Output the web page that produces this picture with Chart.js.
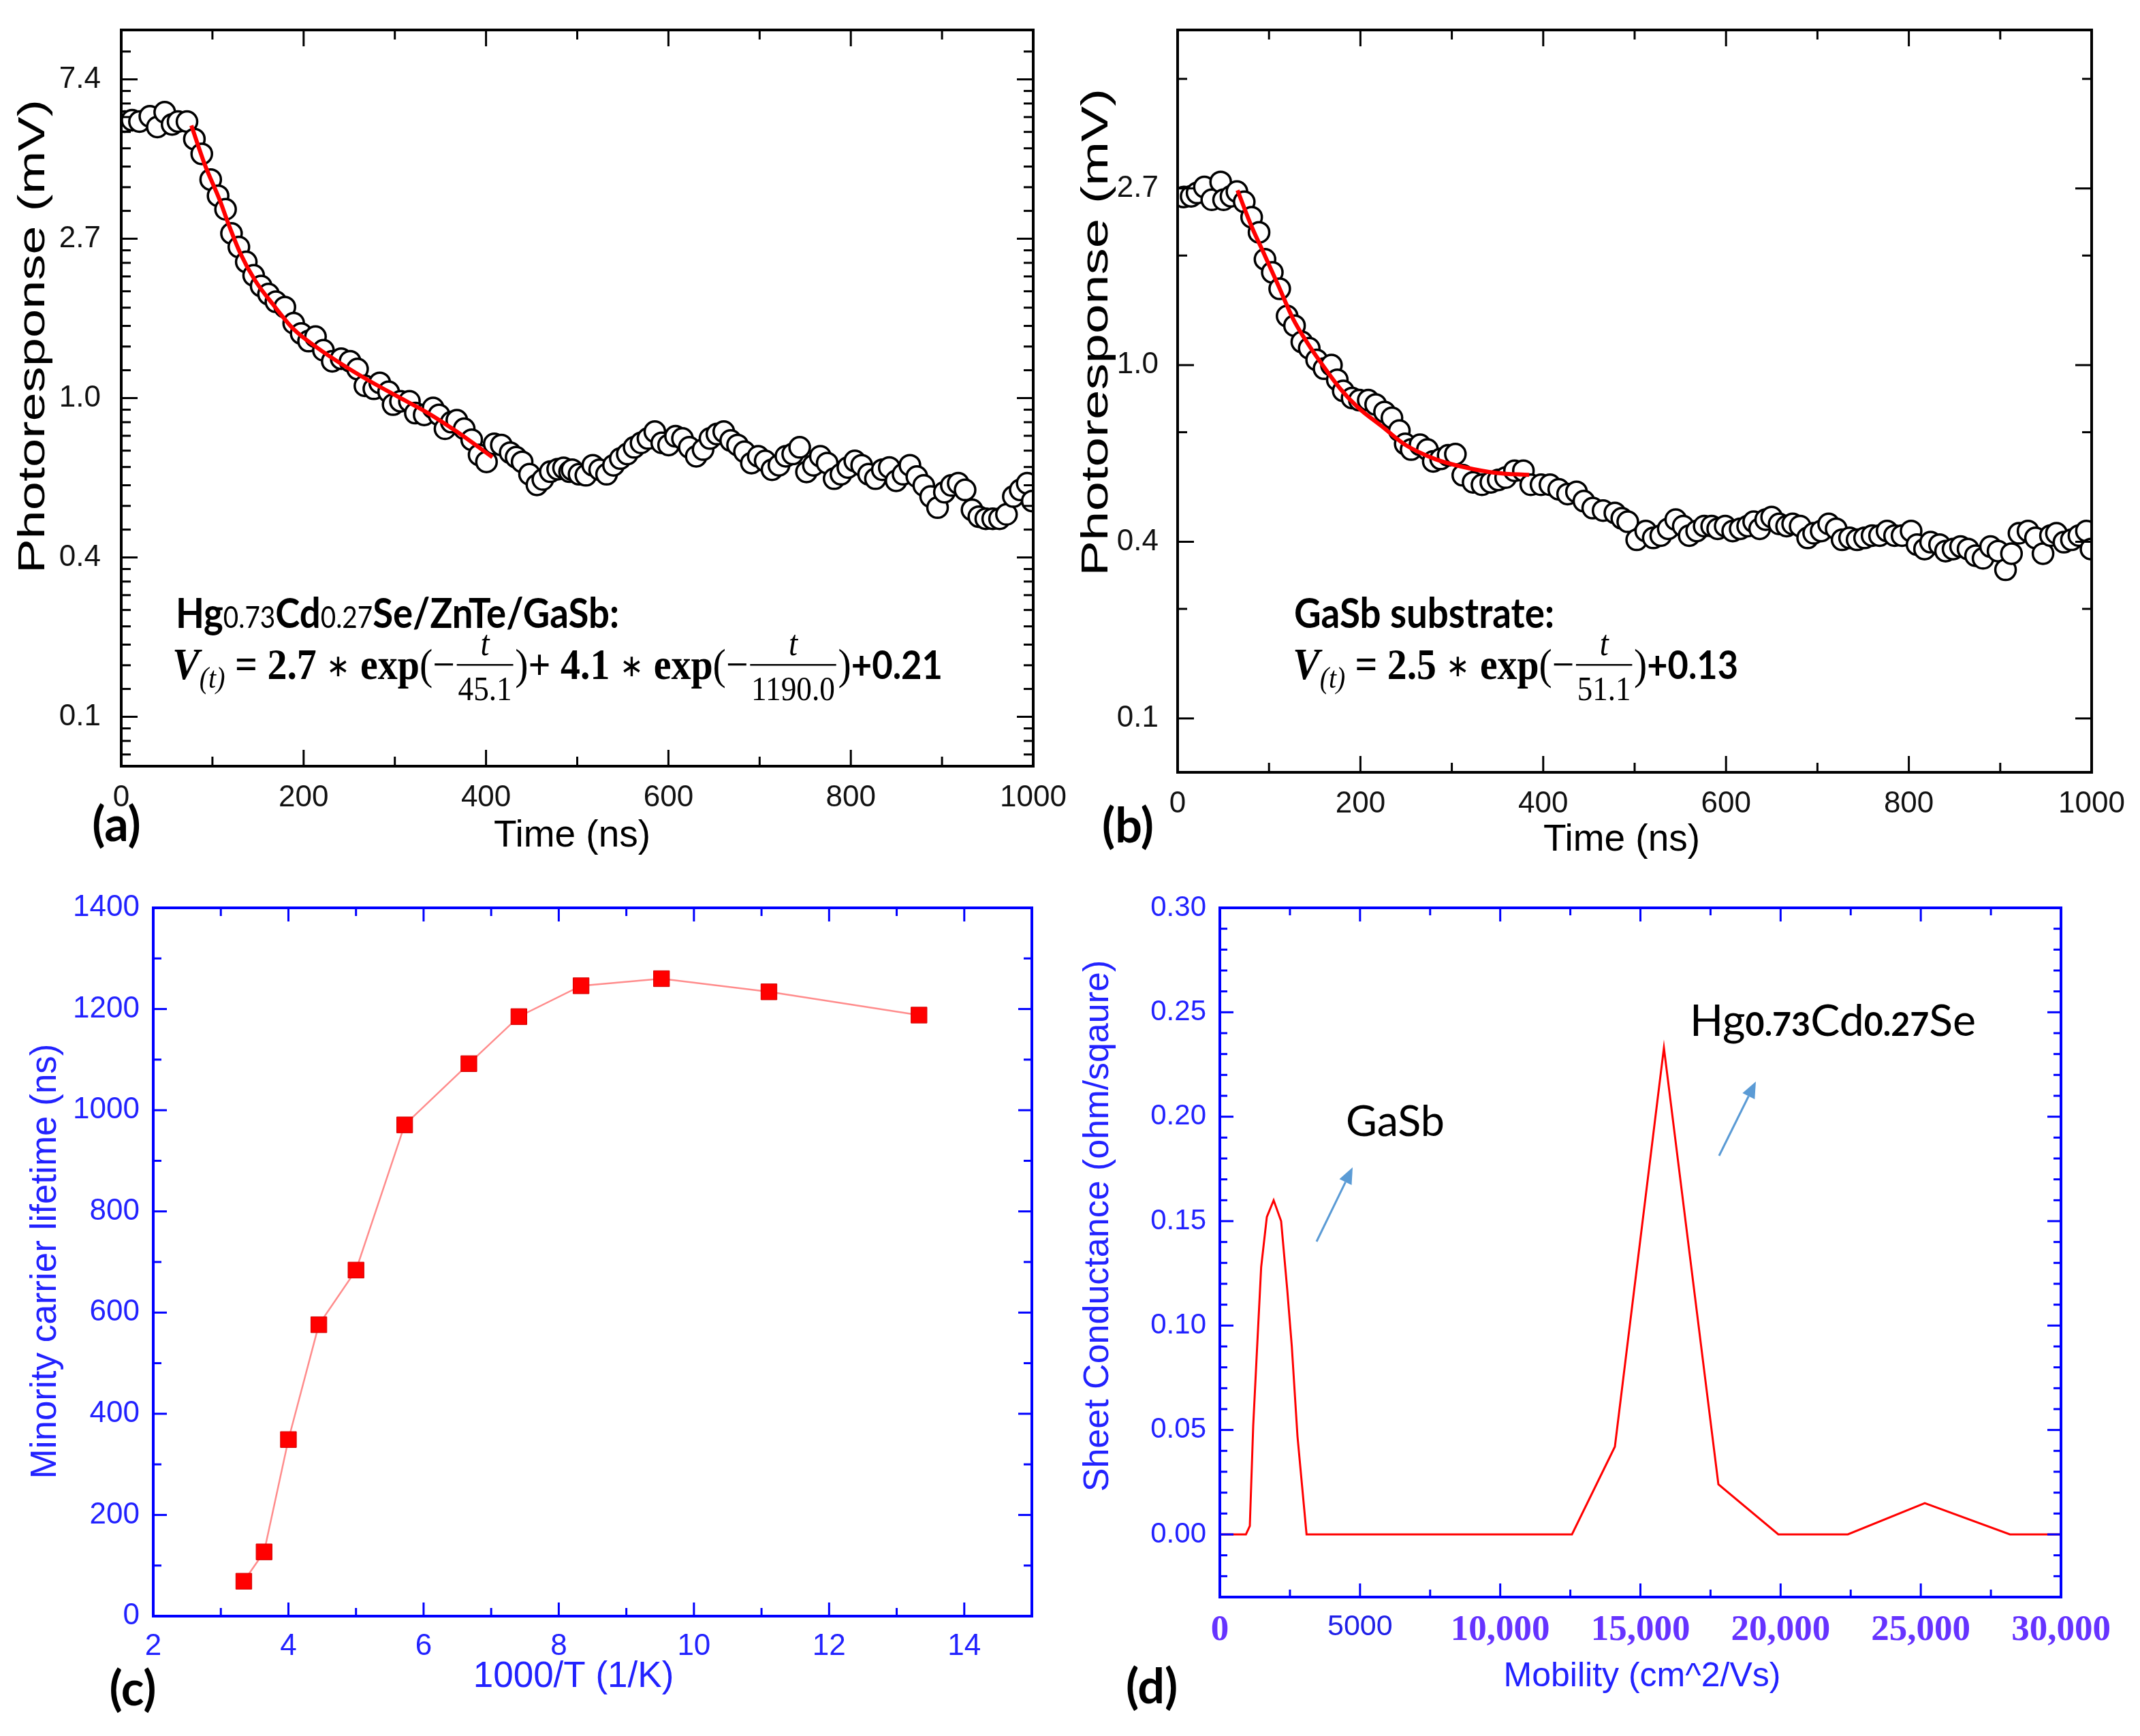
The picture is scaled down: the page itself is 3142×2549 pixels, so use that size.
<!DOCTYPE html>
<html>
<head>
<meta charset="utf-8">
<script src="https://cdn.jsdelivr.net/npm/chart.js@4.4.1/dist/chart.umd.min.js"></script>
<style>
  html, body { margin: 0; padding: 0; background: #fff; }
  body { width: 3142px; height: 2549px; position: relative; overflow: hidden; }
  canvas { position: absolute; }
</style>
</head>
<body>
<canvas id="ca" width="1571" height="1270" style="left:0;top:0;width:1571px;height:1270px"></canvas>
<canvas id="cb" width="1571" height="1270" style="left:1571px;top:0;width:1571px;height:1270px"></canvas>
<canvas id="cc" width="1571" height="1279" style="left:0;top:1270px;width:1571px;height:1279px"></canvas>
<canvas id="cd" width="1571" height="1279" style="left:1571px;top:1270px;width:1571px;height:1279px"></canvas>
<script>
// ---- (a) Hg0.73Cd0.27Se/ZnTe/GaSb photoresponse ----
let tA = [3.8, 11.9, 20.0, 31.4, 39.6, 47.7, 55.8, 62.3, 72.1, 80.2, 88.3, 98.1, 106.2, 114.4, 120.9, 129.0, 137.1, 145.2, 153.4, 161.5,
  169.6, 179.4, 189.1, 197.3, 205.4, 213.0, 221.7, 231.4, 241.2, 250.9, 259.1, 267.2, 277.0, 283.5, 293.2, 298.1, 306.2, 316.0, 322.5, 332.2,
  342.0, 348.5, 355.0, 362.0, 368.0, 376.1, 384.3, 392.4, 400.5, 409.0, 416.8, 426.5, 433.0, 439.6, 447.7, 455.8, 462.3, 470.5, 478.6, 485.0, 491.6,
  494.4, 502, 509.5, 517.1, 524.6, 532.2, 539.8, 547.3, 554.9, 562.4, 570, 577.6, 585.1, 592.7, 600.2, 607.8, 615.4, 622.9, 630.5, 638,
  645.6, 653.2, 660.7, 668.3, 675.8, 683.4, 691, 698.5, 706.1, 713.6, 721.2, 728.8, 736.3, 743.9, 751.4, 759, 766.6, 774.1, 781.7, 789.2,
  796.8, 804.4, 811.9, 819.5, 827, 834.6, 842.2, 849.7, 857.3, 864.8, 872.4, 880, 887.5, 895.1, 902.6, 910.2, 917.8, 925.3, 932.9, 940.4,
  948, 955.6, 963.1, 970.7, 978.2, 985.8, 993.4, 999];
let vA = [5.67, 5.72, 5.67, 5.86, 5.48, 6.01, 5.57, 5.67, 5.67, 5.08, 4.63, 3.94, 3.56, 3.27, 2.81, 2.58, 2.35, 2.16, 2.02, 1.92,
  1.83, 1.77, 1.60, 1.50, 1.43, 1.47, 1.35, 1.26, 1.28, 1.26, 1.20, 1.08, 1.06, 1.10, 1.04, 0.96, 0.98, 0.98, 0.91, 0.90,
  0.94, 0.90, 0.825, 0.86, 0.87, 0.825, 0.77, 0.70, 0.67, 0.75, 0.745, 0.71, 0.69, 0.67, 0.62, 0.58, 0.60, 0.63, 0.64, 0.645, 0.63,
  0.638, 0.620, 0.616, 0.656, 0.638, 0.620, 0.656, 0.684, 0.704, 0.734, 0.755, 0.776, 0.810, 0.755, 0.745, 0.787, 0.776, 0.734, 0.694, 0.724,
  0.776, 0.798, 0.810, 0.766, 0.745, 0.714, 0.665, 0.694, 0.674, 0.638, 0.656, 0.694, 0.704, 0.734, 0.629, 0.656, 0.694, 0.665, 0.603, 0.620,
  0.647, 0.674, 0.656, 0.620, 0.603, 0.638, 0.647, 0.595, 0.620, 0.656, 0.611, 0.578, 0.539, 0.503, 0.554, 0.578, 0.586, 0.562, 0.496, 0.475,
  0.469, 0.469, 0.469, 0.482, 0.539, 0.562, 0.586, 0.524];
let fitTA = [76.9, 91.6, 107.9, 117.6, 130.6, 146.9, 166.4, 189.1, 215.2, 241.2, 270.5, 303, 335.5, 368, 407];
let fitVA = [5.53, 4.33, 3.47, 2.98, 2.48, 2.09, 1.80, 1.54, 1.37, 1.24, 1.12, 1.01, 0.913, 0.81, 0.69];

// ---- (b) GaSb substrate photoresponse ----
let tB = [6.7, 14.8, 21.3, 29.3, 37.4, 47.1, 50.3, 58.4, 64.9, 72.9, 81, 89.1, 95.6, 103.6, 111.7, 119.8, 127.9, 135.9, 144, 152.1,
  160.2, 168.3, 174.7, 181.2, 190.9, 198.9, 208.6, 216.7, 226.4, 234.5, 242.6, 249, 255.5, 265.2, 273.3, 279.7, 287.8, 296, 303.9, 312,
  323.3, 333, 342.7, 350.8, 358.9, 368.6, 378.3, 386.4, 397.6, 407.4, 417, 426.7, 436.4, 444.5, 454.2, 465.5, 478.4, 486,
  492.5, 502.3, 512.2, 520.4, 528.6, 536.8, 545, 553.2, 559.7, 567.9, 576.1, 584.3, 590.9, 599.1, 607.3, 615.5, 623.7, 630.3, 636.8, 643.4,
  649.9, 658.1, 666.3, 672.9, 681.1, 689.3, 695.9, 704.1, 712.3, 720.5, 727, 735.2, 743.4, 751.6, 759.8, 768, 776.2, 784.4, 792.6, 802.5,
  809, 817.2, 823.8, 833.6, 840.2, 848.4, 856.6, 864.8, 873, 881.2, 889.4, 897.6, 905.8, 912.3, 920.5, 930.4, 938.6, 946.8, 955, 961.5,
  969.7, 977.9, 986.1, 994.3, 999.3];
let vB = [2.59, 2.60, 2.65, 2.74, 2.55, 2.82, 2.55, 2.60, 2.67, 2.52, 2.31, 2.12, 1.82, 1.69, 1.54, 1.32, 1.25, 1.14, 1.10, 1.03,
  0.98, 1.00, 0.92, 0.864, 0.83, 0.82, 0.82, 0.80, 0.767, 0.742, 0.69, 0.64, 0.62, 0.637, 0.62, 0.58, 0.588, 0.60, 0.604, 0.536,
  0.515, 0.508, 0.515, 0.522, 0.529, 0.55, 0.55, 0.508, 0.508, 0.508, 0.495, 0.482, 0.488, 0.463, 0.445, 0.439, 0.433, 0.42,
  0.412, 0.372, 0.391, 0.376, 0.381, 0.396, 0.417, 0.402, 0.381, 0.391, 0.402, 0.402, 0.396, 0.402, 0.391, 0.396, 0.402, 0.412, 0.396, 0.417,
  0.423, 0.407, 0.402, 0.407, 0.402, 0.376, 0.386, 0.391, 0.407, 0.396, 0.372, 0.376, 0.372, 0.376, 0.381, 0.381, 0.391, 0.381, 0.381, 0.391,
  0.362, 0.353, 0.367, 0.362, 0.349, 0.353, 0.358, 0.353, 0.340, 0.335, 0.358, 0.349, 0.314, 0.344, 0.386, 0.391, 0.376, 0.344, 0.381, 0.386,
  0.367, 0.372, 0.381, 0.391, 0.353];
let fitTB = [65.5, 81, 94, 110.1, 126.3, 142.4, 158.6, 177.9, 197.3, 223.2, 249, 281.3, 313.6, 349.2, 384.7];
let fitVB = [2.69, 2.19, 1.89, 1.57, 1.30, 1.13, 1.0, 0.875, 0.787, 0.708, 0.637, 0.588, 0.561, 0.543, 0.537];

// log axes of (a),(b): ticks sit on e^n, labelled with one decimal
let logTicks = [Math.exp(-2), Math.exp(-1), 1, Math.E, Math.exp(2)];
let timeTicks = [0, 200, 400, 600, 800, 1000];

// ---- (c) lifetime vs 1000/T ----
let invT = [3.34, 3.64, 4.0, 4.45, 5.0, 5.72, 6.67, 7.41, 8.33, 9.52, 11.11, 13.33];
let tau = [69, 127, 349, 576, 684, 971, 1092, 1185, 1246, 1260, 1234, 1188];
let invTTicks = [2, 4, 6, 8, 10, 12, 14];
let tauTicks = [0, 200, 400, 600, 800, 1000, 1200, 1400];

// ---- (d) mobility spectrum ----
let mob = [0, 931, 1069, 1190, 1312, 1474, 1676, 1919, 2186, 2405, 2567, 2769, 3093, 12559, 14089, 15838, 17781, 19919, 22397, 25142, 28178, 30000];
let sheet = [0, 0, 0.004, 0.052, 0.085, 0.128, 0.152, 0.160, 0.150, 0.117, 0.090, 0.047, 0, 0, 0.042, 0.233, 0.024, 0, 0, 0.015, 0, 0];
let mobTicks = [0, 5000, 10000, 15000, 20000, 25000, 30000];
let mobLabels = ['0', '5000', '10,000', '15,000', '20,000', '25,000', '30,000'];
let sheetTicks = [0, 0.05, 0.10, 0.15, 0.20, 0.25, 0.30];

const SANS = '"Liberation Sans", Arial, sans-serif';
const SERIF = '"Liberation Serif", "Times New Roman", serif';
const CAL = 'Lato, "Open Sans", sans-serif';
const BLUE = '#0000ff';
const BLUE_TXT = '#2222ff';

function pts(xs, ys) {
  let out = [];
  for (let i = 0; i < Math.min(xs.length, ys.length); i++) out.push({x: xs[i], y: ys[i]});
  return out;
}

function range(a, b, step) {
  let out = [];
  for (let v = a; v <= b + step / 1000; v += step) out.push(+v.toFixed(6));
  return out;
}

// minor ticks of the e-based log axes: each [e^n, e^n+1] cut in n equal parts
function logMinors(parts) {
  let out = [];
  for (let k = -3; k <= 2; k++) {
    let lo = Math.exp(k), hi = Math.exp(k + 1);
    for (let j = 1; j < parts; j++) out.push(lo + j * (hi - lo) / parts);
  }
  return out;
}

function fixAxis(size, vertical) {
  return function (scale) {
    if (vertical) scale.width = size; else scale.height = size;
    scale.paddingLeft = scale.paddingRight = scale.paddingTop = scale.paddingBottom = 0;
  };
}

function seg(ctx, x1, y1, x2, y2) {
  ctx.beginPath(); ctx.moveTo(x1, y1); ctx.lineTo(x2, y2); ctx.stroke();
}

// box + inward ticks on all four sides
function framePlugin(o) {
  return {
    id: 'frame',
    afterDatasetsDraw(chart) {
      const ctx = chart.ctx, a = chart.chartArea, sx = chart.scales.x, sy = chart.scales.y;
      ctx.save();
      ctx.strokeStyle = o.color;
      ctx.lineWidth = o.tickWidth;
      const doX = (vals, len) => vals.forEach(v => {
        const p = sx.getPixelForValue(v);
        if (p < a.left - 1 || p > a.right + 1) return;
        seg(ctx, p, a.bottom, p, a.bottom - len);
        seg(ctx, p, a.top, p, a.top + len);
      });
      const doY = (vals, len) => vals.forEach(v => {
        const p = sy.getPixelForValue(v);
        if (p < a.top - 1 || p > a.bottom + 1) return;
        seg(ctx, a.left, p, a.left + len, p);
        seg(ctx, a.right, p, a.right - len, p);
      });
      doX(o.xMajor, o.majorLen); doX(o.xMinor, o.minorLen);
      doY(o.yMajor, o.majorLen); doY(o.yMinor, o.minorLen);
      ctx.lineWidth = o.border;
      ctx.strokeRect(a.left, a.top, a.right - a.left, a.bottom - a.top);
      ctx.restore();
    }
  };
}

function drawLabel(ctx, it) {
  ctx.save();
  ctx.translate(it.x, it.y);
  if (it.rot) ctx.rotate(-Math.PI / 2);
  ctx.font = it.font;
  ctx.fillStyle = it.color || '#000';
  ctx.textAlign = 'center';
  ctx.textBaseline = 'middle';
  if (it.len) {
    const w = ctx.measureText(it.text).width;
    ctx.scale(it.len / w, 1);
  }
  ctx.fillText(it.text, 0, 0);
  ctx.restore();
}

// run of text pieces (with fractions), fitted to a width
function drawRich(ctx, it) {
  ctx.save();
  let total = 0;
  const parts = it.runs.map(r => {
    if (r.den) {
      ctx.font = r.f; const wn = ctx.measureText(r.num).width;
      ctx.font = r.df; const wd = ctx.measureText(r.den).width;
      const w = Math.max(wn, wd) + 10;
      total += w;
      return {r, w, wn, wd};
    }
    ctx.font = r.f;
    const w = ctx.measureText(r.t).width;
    total += w;
    return {r, w};
  });
  ctx.translate(it.x, it.y);
  ctx.scale(it.w / total, 1);
  ctx.fillStyle = it.color || '#000';
  ctx.textAlign = 'left';
  ctx.textBaseline = 'alphabetic';
  let cx = 0;
  parts.forEach(p => {
    const r = p.r;
    if (r.den) {
      ctx.font = r.f; ctx.fillText(r.num, cx + (p.w - p.wn) / 2, -35);
      ctx.font = r.df; ctx.fillText(r.den, cx + (p.w - p.wd) / 2, 31);
      ctx.fillRect(cx + 3, -22, p.w - 6, 2.5);
    } else {
      ctx.font = r.f;
      ctx.fillText(r.t, cx, r.dy || 0);
    }
    cx += p.w;
  });
  ctx.restore();
}

function drawArrow(ctx, it) {
  const ang = Math.atan2(it.y2 - it.y1, it.x2 - it.x1), L = 24, W = 10;
  const bx = it.x2 - L * Math.cos(ang), by = it.y2 - L * Math.sin(ang);
  ctx.save();
  ctx.strokeStyle = it.color; ctx.fillStyle = it.color; ctx.lineWidth = 3;
  seg(ctx, it.x1, it.y1, bx, by);
  ctx.beginPath();
  ctx.moveTo(it.x2, it.y2);
  ctx.lineTo(bx + W * Math.sin(ang), by - W * Math.cos(ang));
  ctx.lineTo(bx - W * Math.sin(ang), by + W * Math.cos(ang));
  ctx.closePath(); ctx.fill();
  ctx.restore();
}

// texts are given in page coordinates; ox/oy is the canvas offset
function notesPlugin(ox, oy, items) {
  return {
    id: 'notes',
    afterDraw(chart) {
      const ctx = chart.ctx;
      ctx.save();
      ctx.translate(-ox, -oy);
      items.forEach(it => {
        if (it.kind === 'rich') drawRich(ctx, it);
        else if (it.kind === 'arrow') drawArrow(ctx, it);
        else drawLabel(ctx, it);
      });
      ctx.restore();
    }
  };
}

const base = {
  responsive: false,
  animation: false,
  devicePixelRatio: 1,
  events: [],
  plugins: { legend: { display: false }, tooltip: { enabled: false } }
};

function axis(extra) {
  return Object.assign({
    grid: { display: false, drawTicks: false },
    border: { display: false }
  }, extra);
}

const EQ = 'bold 64px ' + SERIF;
const EQR = '64px ' + SERIF;
const STAR = '46px ' + SERIF;
const VF = 'bold italic 66px ' + SERIF;
const SUBF = 'italic 44px ' + SERIF;
const NUMF = 'italic 52px ' + SERIF;
const DENF = '50px ' + SERIF;
const HEAD = 'bold 70px ' + CAL;

// ---------- (a) ----------
new Chart(document.getElementById('ca'), {
  type: 'scatter',
  data: {
    datasets: [
      { data: pts(fitTA, fitVA), showLine: true, borderColor: '#ff0000', borderWidth: 6, pointRadius: 0,
        cubicInterpolationMode: 'monotone', fill: false },
      { data: pts(tA, vA), pointStyle: 'circle', pointRadius: 15, pointBackgroundColor: '#ffffff',
        pointBorderColor: '#000000', pointBorderWidth: 3.5, showLine: false, clip: 0 }
    ]
  },
  options: Object.assign({}, base, {
    layout: { padding: { top: 44, right: 54, left: 0, bottom: 0 } },
    scales: {
      x: axis({ type: 'linear', min: 0, max: 1000,
        afterBuildTicks: s => { s.ticks = timeTicks.map(v => ({ value: v })); },
        afterFit: fixAxis(145, false),
        ticks: { padding: 20, maxRotation: 0, autoSkip: false, color: '#111', font: { family: SANS, size: 44 },
          callback: v => String(v) } }),
      y: axis({ type: 'logarithmic', min: Math.exp(-2.31), max: Math.exp(2.31), bounds: 'data',
        afterBuildTicks: s => { s.ticks = logTicks.map(v => ({ value: v })); },
        afterFit: fixAxis(178, true),
        ticks: { padding: 30, autoSkip: false, color: '#111', font: { family: SANS, size: 44 },
          callback: v => Number(v).toFixed(1) } })
    }
  }),
  plugins: [
    framePlugin({ color: '#000', border: 4, tickWidth: 3, majorLen: 24, minorLen: 14,
      xMajor: timeTicks, xMinor: [100, 300, 500, 700, 900], yMajor: logTicks, yMinor: logMinors(9) }),
    notesPlugin(0, 0, [
      { text: 'Time (ns)', x: 840, y: 1228, font: '55px ' + SANS },
      { text: 'Photoresponse (mV)', x: 50, y: 494, font: '56px ' + SANS, rot: true, len: 696 },
      { text: '(a)', x: 171, y: 1212, font: HEAD },
      { kind: 'rich', x: 258, y: 922, w: 651, runs: [
        { t: 'Hg', f: 'bold 62px ' + CAL }, { t: '0.73', f: '44px ' + CAL },
        { t: 'Cd', f: 'bold 62px ' + CAL }, { t: '0.27', f: '44px ' + CAL },
        { t: 'Se/ZnTe/GaSb:', f: 'bold 62px ' + CAL } ] },
      { kind: 'rich', x: 253, y: 997, w: 1131, runs: [
        { t: 'V', f: VF }, { t: '(t)', f: SUBF, dy: 13 }, { t: ' = 2.7 ', f: EQ }, { t: '\u2217', f: STAR, dy: -4 },
        { t: ' exp', f: EQ }, { t: '(\u2212', f: EQR },
        { num: 't', den: '45.1', f: NUMF, df: DENF }, { t: ')', f: EQR }, { t: '+ 4.1 ', f: EQ }, { t: '\u2217', f: STAR, dy: -4 },
        { t: ' exp', f: EQ }, { t: '(\u2212', f: EQR },
        { num: 't', den: '1190.0', f: NUMF, df: DENF }, { t: ')', f: EQR }, { t: '+0.21', f: 'bold 58px ' + CAL } ] }
    ])
  ]
});

// ---------- (b) ----------
new Chart(document.getElementById('cb'), {
  type: 'scatter',
  data: {
    datasets: [
      { data: pts(fitTB, fitVB), showLine: true, borderColor: '#ff0000', borderWidth: 6, pointRadius: 0,
        cubicInterpolationMode: 'monotone', fill: false },
      { data: pts(tB, vB), pointStyle: 'circle', pointRadius: 15, pointBackgroundColor: '#ffffff',
        pointBorderColor: '#000000', pointBorderWidth: 3.5, showLine: false, clip: 0 }
    ]
  },
  options: Object.assign({}, base, {
    layout: { padding: { top: 44, right: 71, left: 0, bottom: 0 } },
    scales: {
      x: axis({ type: 'linear', min: 0, max: 1000,
        afterBuildTicks: s => { s.ticks = timeTicks.map(v => ({ value: v })); },
        afterFit: fixAxis(136, false),
        ticks: { padding: 20, maxRotation: 0, autoSkip: false, color: '#111', font: { family: SANS, size: 44 },
          callback: v => String(v) } }),
      y: axis({ type: 'logarithmic', min: Math.exp(-2.305), max: Math.exp(1.897), bounds: 'data',
        afterBuildTicks: s => { s.ticks = logTicks.slice(0, 4).map(v => ({ value: v })); },
        afterFit: fixAxis(158, true),
        ticks: { padding: 28, autoSkip: false, color: '#111', font: { family: SANS, size: 44 },
          callback: v => Number(v).toFixed(1) } })
    }
  }),
  plugins: [
    framePlugin({ color: '#000', border: 4, tickWidth: 3, majorLen: 24, minorLen: 14,
      xMajor: timeTicks, xMinor: [100, 300, 500, 700, 900], yMajor: logTicks, yMinor: logMinors(2) }),
    notesPlugin(1571, 0, [
      { text: 'Time (ns)', x: 2381, y: 1234, font: '55px ' + SANS },
      { text: 'Photoresponse (mV)', x: 1611, y: 488, font: '56px ' + SANS, rot: true, len: 716 },
      { text: '(b)', x: 1656, y: 1214, font: HEAD },
      { kind: 'rich', x: 1900, y: 922, w: 382, runs: [ { t: 'GaSb substrate:', f: 'bold 62px ' + CAL } ] },
      { kind: 'rich', x: 1898, y: 997, w: 654, runs: [
        { t: 'V', f: VF }, { t: '(t)', f: SUBF, dy: 13 }, { t: ' = 2.5 ', f: EQ }, { t: '\u2217', f: STAR, dy: -4 },
        { t: ' exp', f: EQ }, { t: '(\u2212', f: EQR },
        { num: 't', den: '51.1', f: NUMF, df: DENF }, { t: ')', f: EQR }, { t: '+0.13', f: 'bold 58px ' + CAL } ] }
    ])
  ]
});

// ---------- (c) ----------
new Chart(document.getElementById('cc'), {
  type: 'scatter',
  data: {
    datasets: [
      { data: pts(invT, tau), showLine: true, borderColor: '#ff8c8c', borderWidth: 2.5,
        pointStyle: 'rect', pointRadius: 16.5, pointBackgroundColor: '#ff0000', pointBorderColor: '#d00000', pointBorderWidth: 1 }
    ]
  },
  options: Object.assign({}, base, {
    layout: { padding: { top: 63, right: 56, left: 0, bottom: 0 } },
    scales: {
      x: axis({ type: 'linear', min: 2, max: 15,
        afterBuildTicks: s => { s.ticks = invTTicks.map(v => ({ value: v })); },
        afterFit: fixAxis(176, false),
        ticks: { padding: 18, maxRotation: 0, autoSkip: false, color: BLUE_TXT, font: { family: SANS, size: 44 },
          callback: v => String(v) } }),
      y: axis({ type: 'linear', min: 0, max: 1400,
        afterBuildTicks: s => { s.ticks = tauTicks.map(v => ({ value: v })); },
        afterFit: fixAxis(225, true),
        ticks: { padding: 20, autoSkip: false, color: BLUE_TXT, font: { family: SANS, size: 44 },
          callback: v => String(v) } })
    }
  }),
  plugins: [
    framePlugin({ color: BLUE, border: 4, tickWidth: 3, majorLen: 20, minorLen: 12,
      xMajor: invTTicks, xMinor: [3, 5, 7, 9, 11, 13, 15], yMajor: tauTicks, yMinor: range(100, 1300, 200) }),
    notesPlugin(0, 1270, [
      { text: '1000/T (1/K)', x: 842, y: 2462, font: '53px ' + SANS, color: BLUE_TXT },
      { text: 'Minority carrier lifetime (ns)', x: 67, y: 1852, font: '53px ' + SANS, color: BLUE_TXT, rot: true },
      { text: '(c)', x: 195, y: 2481, font: HEAD }
    ])
  ]
});

// ---------- (d) ----------
new Chart(document.getElementById('cd'), {
  type: 'scatter',
  data: {
    datasets: [
      { data: pts(mob, sheet), showLine: true, borderColor: '#ff0000', borderWidth: 3, pointRadius: 0, fill: false }
    ]
  },
  options: Object.assign({}, base, {
    layout: { padding: { top: 63, right: 116, left: 0, bottom: 0 } },
    scales: {
      x: axis({ type: 'linear', min: 0, max: 30000,
        afterBuildTicks: s => { s.ticks = mobTicks.map(v => ({ value: v })); },
        afterFit: fixAxis(204, false),
        ticks: { padding: 18, maxRotation: 0, autoSkip: false,
          color: c => (c.tick && c.tick.value === 5000) ? '#2020e8' : '#6633ff',
          font: c => (c.tick && c.tick.value === 5000) ? { family: SANS, size: 43 } : { family: SERIF, size: 53, weight: 'bold' },
          callback: (v, i) => mobLabels[i] } }),
      y: axis({ type: 'linear', min: -0.03, max: 0.30,
        afterBuildTicks: s => { s.ticks = sheetTicks.map(v => ({ value: v })); },
        afterFit: fixAxis(220, true),
        ticks: { padding: 20, autoSkip: false, color: BLUE_TXT, font: { family: SANS, size: 42 },
          callback: v => Number(v).toFixed(2) } })
    }
  }),
  plugins: [
    framePlugin({ color: BLUE, border: 4, tickWidth: 3, majorLen: 20, minorLen: 11,
      xMajor: mobTicks, xMinor: [2500, 7500, 12500, 17500, 22500, 27500],
      yMajor: sheetTicks, yMinor: range(-0.03, 0.30, 0.01).filter(v => Math.abs(v * 20 - Math.round(v * 20)) > 1e-6) }),
    notesPlugin(1571, 1270, [
      { text: 'Mobility (cm^2/Vs)', x: 2411, y: 2462, font: '50px ' + SANS, color: BLUE_TXT },
      { text: 'Sheet Conductance (ohm/sqaure)', x: 1613, y: 1800, font: '52px ' + SANS, color: BLUE_TXT, rot: true },
      { text: '(d)', x: 1691, y: 2478, font: HEAD },
      { kind: 'rich', x: 1976, y: 1668, w: 145, runs: [ { t: 'GaSb', f: '62px ' + CAL } ] },
      { kind: 'rich', x: 2481, y: 1521, w: 420, runs: [
        { t: 'Hg', f: '64px ' + CAL }, { t: '0.73', f: 'bold 48px ' + CAL }, { t: 'Cd', f: '64px ' + CAL },
        { t: '0.27', f: 'bold 48px ' + CAL }, { t: 'Se', f: '64px ' + CAL } ] },
      { kind: 'arrow', x1: 1933, y1: 1823, x2: 1986, y2: 1714, color: '#5b9bd5' },
      { kind: 'arrow', x1: 2524, y1: 1697, x2: 2578, y2: 1588, color: '#5b9bd5' }
    ])
  ]
});
</script>
</body>
</html>
